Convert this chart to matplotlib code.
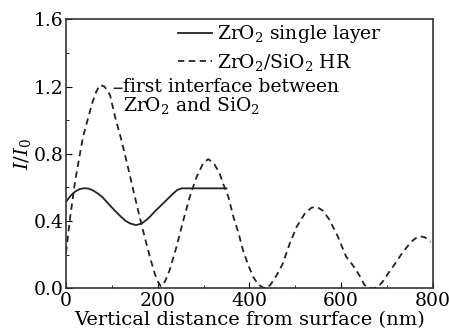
import matplotlib
matplotlib.use('Agg')
import matplotlib.pyplot as plt
from matplotlib.ticker import MultipleLocator, FormatStrFormatter

# ZrO2 single layer (solid)
single_x = [0, 10, 20, 30, 41, 50, 60, 70, 80, 90, 100, 110, 120, 130, 140, 153,
            165, 175, 183, 195, 212, 225, 234, 243, 252, 300, 350]
single_y = [0.514, 0.55, 0.575, 0.59, 0.595, 0.592, 0.58, 0.562, 0.54, 0.51, 0.48,
            0.452, 0.425, 0.40, 0.385, 0.375, 0.385, 0.405, 0.425, 0.46, 0.505,
            0.54, 0.564, 0.585, 0.594, 0.594, 0.594]

# ZrO2/SiO2 HR (dashed)
hr_x = [0, 9, 20, 37, 57, 66, 74, 84, 96, 107, 120, 133, 147, 161, 172, 183, 192, 198,
        207, 216, 226, 241, 256, 270, 285, 299, 310, 322, 335, 343, 354, 365, 376, 386,
        397, 408, 420, 430, 437, 446, 458, 473, 488, 503, 521, 535, 546, 560, 575, 593,
        611, 619, 633, 643, 651, 660, 670, 680, 691, 702, 713, 735, 753, 763, 771, 783, 795]
hr_y = [0.21, 0.42, 0.64, 0.90, 1.10, 1.17, 1.21, 1.20, 1.15, 1.02, 0.89, 0.745, 0.58,
        0.42, 0.30, 0.185, 0.10, 0.05, 0.01, 0.04, 0.107, 0.246, 0.405, 0.544, 0.663,
        0.743, 0.768, 0.745, 0.683, 0.62, 0.544, 0.425, 0.33, 0.226, 0.14, 0.067, 0.02,
        0.003, 0.0, 0.02, 0.07, 0.147, 0.266, 0.365, 0.445, 0.478, 0.485, 0.462, 0.405,
        0.306, 0.187, 0.16, 0.107, 0.06, 0.018, 0.003, 0.0, 0.005, 0.04, 0.085, 0.127,
        0.216, 0.276, 0.298, 0.31, 0.302, 0.276]

plt.rcParams['font.family'] = ['DejaVu Serif']
plt.rcParams['mathtext.fontset'] = 'dejavuserif'

fig = plt.figure(figsize=(4.49, 3.35), dpi=100)
ax = fig.add_axes([0.147, 0.140, 0.817, 0.802])

ax.plot(single_x, single_y, color='#222222', lw=1.3, label=r'ZrO$_2$ single layer')
ax.plot(hr_x, hr_y, color='#222222', lw=1.3, linestyle=(0, (3.5, 2.5)),
        label=r'ZrO$_2$/SiO$_2$ HR')

# note on the first interface, with a short leader
ax.text(124, 1.25, 'first interface between\nZrO$_2$ and SiO$_2$', fontsize=13.5,
        va='top', ha='left', linespacing=0.95)
ax.annotate('', xy=(105, 1.19), xytext=(122, 1.19),
            arrowprops=dict(arrowstyle='-', color='#222222', lw=1.1, shrinkA=0, shrinkB=0))

ax.set_xlim(0, 800)
ax.set_ylim(0, 1.6)
ax.xaxis.set_major_locator(MultipleLocator(200))
ax.xaxis.set_minor_locator(MultipleLocator(100))
ax.yaxis.set_major_locator(MultipleLocator(0.4))
ax.yaxis.set_minor_locator(MultipleLocator(0.2))
ax.yaxis.set_major_formatter(FormatStrFormatter('%.1f'))
ax.tick_params(which='both', direction='in', labelsize=13.5, pad=2)
ax.tick_params(axis='x', pad=3)
ax.tick_params(which='major', length=4)
ax.tick_params(which='minor', length=2.5)
for s in ax.spines.values():
    s.set_linewidth(1.2)
    s.set_color('#333333')

ax.set_xlabel('Vertical distance from surface (nm)', fontsize=14, labelpad=0.5)
ax.set_ylabel('$I/I_0$', fontsize=14, labelpad=0)

ax.legend(loc='upper left', bbox_to_anchor=(0.28, 1.02), frameon=False, fontsize=13.5,
          handlelength=1.8, handletextpad=0.25, labelspacing=0.35, borderaxespad=0.1)

fig.savefig('out.png', dpi=100)
